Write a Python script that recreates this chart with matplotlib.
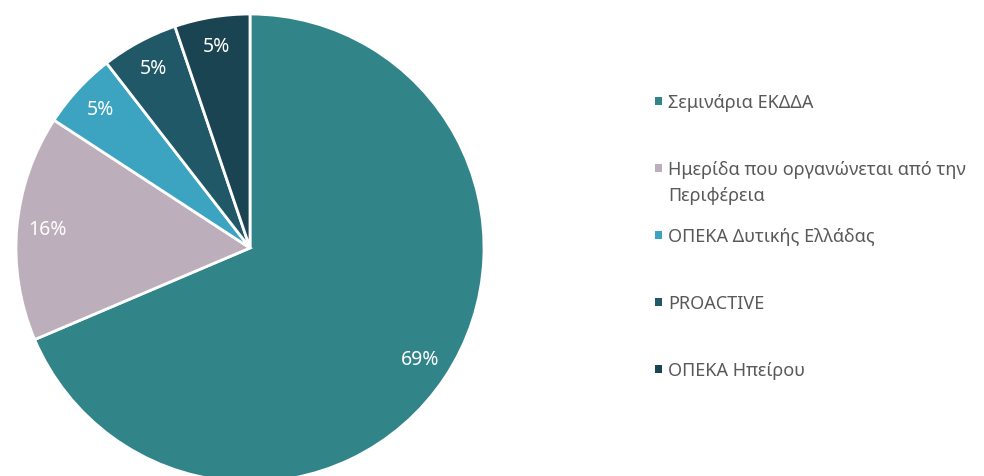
import matplotlib
matplotlib.use('Agg')
import matplotlib.pyplot as plt

plt.rcParams['font.family'] = ['Noto Sans', 'DejaVu Sans']

# data (shares; labels round to 69/16/5/5/5)
labels = ['Σεμινάρια ΕΚΔΔΑ',
          'Ημερίδα που οργανώνεται από την\nΠεριφέρεια',
          'ΟΠΕΚΑ Δυτικής Ελλάδας',
          'PROACTIVE',
          'ΟΠΕΚΑ Ηπείρου']
values = [68.6, 15.6, 5.3, 5.3, 5.2]
colors = ['#318488', '#bcafbb', '#3ca3c1', '#215867', '#1b4452']

W, H = 984, 476
fig = plt.figure(figsize=(W / 100, H / 100), dpi=100)

# pie: centre (250, 248) px, radius 234 px
cx, cy, r = 250, 248, 234
ax = fig.add_axes([(cx - r) / W, (H - cy - r) / H, 2 * r / W, 2 * r / H])
wedges, texts, autotexts = ax.pie(values, colors=colors, startangle=90, counterclock=False,
                                  autopct='%1.0f%%', pctdistance=0.87,
                                  wedgeprops=dict(edgecolor='white', linewidth=2),
                                  textprops=dict(color='white', fontsize=14))
ax.set_xlim(-1, 1)
ax.set_ylim(-1, 1)
ax.axis('off')

# legend drawn as its own little axes, one row per entry
top, step = 101, 67
n = len(labels)
lx0, lx1 = 650, 984
ly_top = top - step / 2
ly_bot = top + (n - 1) * step + step / 2
lax = fig.add_axes([lx0 / W, (H - ly_bot) / H, (lx1 - lx0) / W, (ly_bot - ly_top) / H])
lax.set_xlim(0, lx1 - lx0)
lax.set_ylim(n - 0.5, -0.5)
pos = list(range(n))
lax.scatter([8.5] * n, pos, marker='s', s=26, c=colors, linewidths=0)
line_step = 26 / step
for i, lab in enumerate(labels):
    for k, line in enumerate(lab.split('\n')):
        lax.text(18, pos[i] + k * line_step, line, va='center_baseline', ha='left',
                 fontsize=13, color='#595959')
lax.axis('off')

fig.savefig('out.png', dpi=100, facecolor='white')
